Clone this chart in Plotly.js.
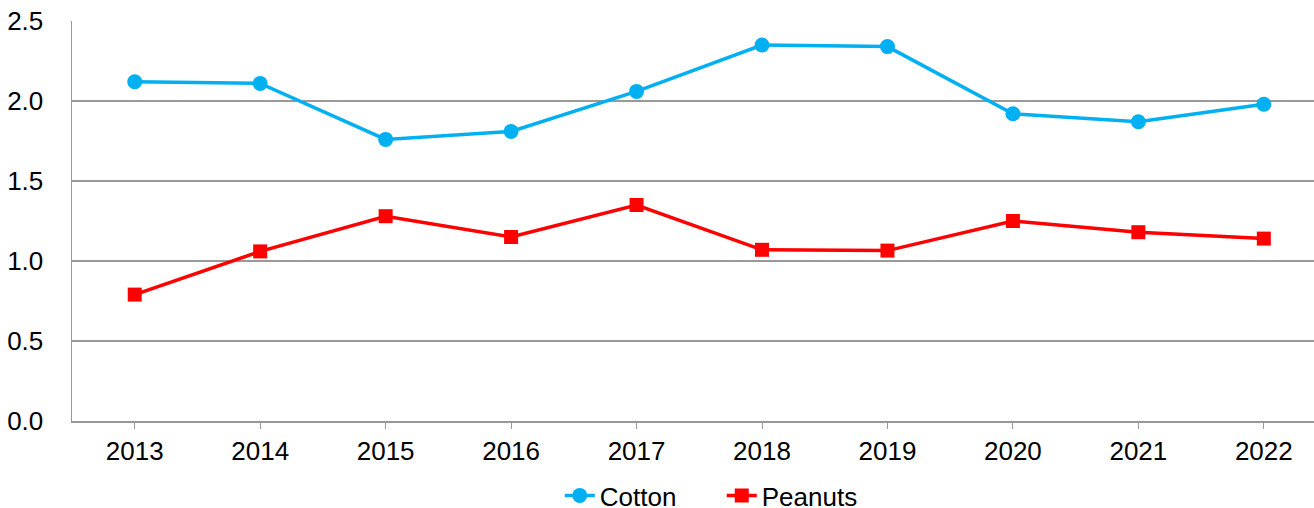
<!DOCTYPE html>
<html><head><meta charset="utf-8">
<script src="https://cdn.plot.ly/plotly-3.0.1.min.js"></script>
<style>html,body{margin:0;padding:0;background:#fff;overflow:hidden}</style>
</head><body><div id="chart" style="width:1314px;height:508px"></div>
<script>
const years = ["2013","2014","2015","2016","2017","2018","2019","2020","2021","2022"];
const cotton = [2.12, 2.11, 1.76, 1.81, 2.06, 2.35, 2.34, 1.92, 1.87, 1.98];
const peanuts = [0.79, 1.06, 1.28, 1.15, 1.35, 1.07, 1.065, 1.25, 1.18, 1.14];

const font = {family: "Liberation Sans, Arial, sans-serif", size: 26, color: "#000"};
Plotly.newPlot("chart", [
  {x: years, y: cotton, name: "Cotton", type: "scatter", mode: "lines+markers",
   line: {color: "#00B0F0", width: 3.5}, marker: {symbol: "circle", size: 15, color: "#00B0F0"}},
  {x: years, y: peanuts, name: "Peanuts", type: "scatter", mode: "lines+markers",
   line: {color: "#FF0000", width: 3.5}, marker: {symbol: "square", size: 14, color: "#FF0000"}}
], {
  width: 1314, height: 508,
  margin: {l: 72, r: 0, t: 21, b: 87},
  paper_bgcolor: "#fff", plot_bgcolor: "#fff",
  font: font,
  showlegend: true,
  legend: {orientation: "h", xref: "container", yref: "container", x: 0.426, xanchor: "left", y: 0, yanchor: "bottom",
           font: font, tracegroupgap: 0, entrywidth: 117, entrywidthmode: "pixels"},
  xaxis: {type: "category", range: [-0.5, 9.4], showgrid: false, showline: true, linecolor: "#999", linewidth: 1.5,
          ticks: "outside", ticklen: 6, tickcolor: "#999", tickfont: font, zeroline: false, automargin: false},
  yaxis: {range: [0, 2.5], dtick: 0.5, tickformat: ".1f", showgrid: true, gridcolor: "#999", gridwidth: 1.2,
          showline: true, linecolor: "#999", linewidth: 1.5, ticks: "", tickfont: font, zeroline: false,
          ticklabelstandoff: 22, automargin: false}
}, {displayModeBar: false, staticPlot: true}).then(function (gd) {
  const lg = gd.querySelector("g.legend");
  if (lg) {
    const t = lg.getAttribute("transform") || "";
    const m = t.match(/translate\(\s*([-\d.]+)[ ,]+([-\d.]+)\s*\)/);
    if (m) lg.setAttribute("transform", "translate(" + m[1] + "," + (parseFloat(m[2]) + 11) + ")");
  }
});
</script></body></html>
